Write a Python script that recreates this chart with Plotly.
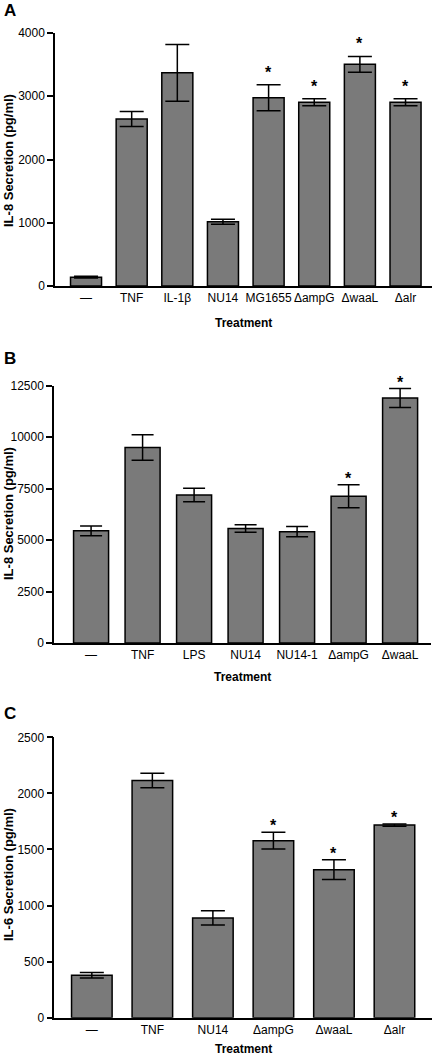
import plotly.graph_objects as go

# Panel A: IL-8
cats_a = ["—", "TNF", "IL-1β", "NU14", "MG1655", "ΔampG", "ΔwaaL", "Δalr"]
vals_a = [140, 2640, 3370, 1015, 2975, 2905, 3505, 2905]
errs_a = [15, 120, 450, 40, 205, 55, 125, 55]
sig_a = [False, False, False, False, True, True, True, True]

# Panel B: IL-8
cats_b = ["—", "TNF", "LPS", "NU14", "NU14-1", "ΔampG", "ΔwaaL"]
vals_b = [5450, 9500, 7190, 5560, 5410, 7130, 11900]
errs_b = [240, 620, 330, 180, 250, 560, 460]
sig_b = [False, False, False, False, False, True, True]

# Panel C: IL-6
cats_c = ["—", "TNF", "NU14", "ΔampG", "ΔwaaL", "Δalr"]
vals_c = [378, 2115, 890, 1578, 1320, 1718]
errs_c = [25, 65, 63, 75, 88, 10]
sig_c = [False, False, False, True, True, True]

W, H = 434, 1056
FONT = "Liberation Sans, Arial, sans-serif"
BAR = "#7a7a7a"

fig = go.Figure()

panels = [
    dict(cats=cats_a, vals=vals_a, errs=errs_a, sig=sig_a, ax="", cap=12,
         xdom=[55, 432], ytop=33, ybot=286, yr=[0, 4000], dt=1000,
         xr=[-0.68, 7.58], ytitle="IL-8 Secretion (pg/ml)", label="A", lab_y=11,
         treat_y=323, bw=0.68, star_shift=6, yt_c=161),
    dict(cats=cats_b, vals=vals_b, errs=errs_b, sig=sig_b, ax="2", cap=11,
         xdom=[54, 431], ytop=385.7, ybot=643, yr=[0, 12500], dt=2500,
         xr=[-0.72, 6.6], ytitle="IL-8 Secretion (pg/ml)", label="B", lab_y=358,
         treat_y=677, bw=0.68, star_shift=0, yt_c=514),
    dict(cats=cats_c, vals=vals_c, errs=errs_c, sig=sig_c, ax="3", cap=12,
         xdom=[54.3, 432], ytop=737.3, ybot=1017.7, yr=[0, 2500], dt=500,
         xr=[-0.62, 5.62], ytitle="IL-6 Secretion (pg/ml)", label="C", lab_y=713,
         treat_y=1049, bw=0.67, star_shift=0, yt_c=875),
]

annotations = []
for i, p in enumerate(panels):
    ax = p["ax"]
    fig.add_trace(go.Bar(
        x=p["cats"], y=p["vals"], width=p["bw"],
        marker=dict(color=BAR, line=dict(color="black", width=1.5)),
        error_y=dict(type="data", array=p["errs"], visible=True,
                     color="black", thickness=1.5, width=p["cap"]),
        xaxis="x" + ax, yaxis="y" + ax, showlegend=False,
    ))
    xd = [p["xdom"][0] / W, p["xdom"][1] / W]
    yd = [(H - p["ybot"]) / H, (H - p["ytop"]) / H]
    fig.update_layout(**{
        "xaxis" + ax: dict(domain=xd, range=p["xr"], type="category",
                           anchor="y" + ax, showline=True, linecolor="black",
                           linewidth=1.5, ticks="", showgrid=False,
                           automargin=False,
                           tickfont=dict(size=12, color="black", family=FONT),
                           categoryorder="array", categoryarray=p["cats"],
                           fixedrange=True),
        "yaxis" + ax: dict(domain=yd, range=p["yr"], anchor="x" + ax,
                           showline=True, linecolor="black", linewidth=1.5,
                           ticks="outside", ticklen=6, tickwidth=1.5,
                           tickcolor="black", dtick=p["dt"], showgrid=False,
                           zeroline=False, automargin=False, tickformat="d",
                           tickfont=dict(size=12, color="black", family=FONT)),
    })
    xref = "x" + ax
    yref = "y" + ax
    for c, v, e, s in zip(p["cats"], p["vals"], p["errs"], p["sig"]):
        if s:
            annotations.append(dict(x=c, y=v + e, xref=xref, yref=yref,
                                    text="<b>*</b>", showarrow=False,
                                    yanchor="bottom", yshift=p["star_shift"] - 4,
                                    font=dict(size=16, color="black", family=FONT)))
    # panel label
    annotations.append(dict(x=2 / W, y=(H - p["lab_y"]) / H, xref="paper", yref="paper",
                            text="<b>" + p["label"] + "</b>", showarrow=False,
                            xanchor="left", yanchor="middle",
                            font=dict(size=17, color="black", family=FONT)))
    # x title
    annotations.append(dict(x=(xd[0] + xd[1]) / 2, y=(H - p["treat_y"]) / H,
                            xref="paper", yref="paper", text="<b>Treatment</b>",
                            showarrow=False, xanchor="center", yanchor="middle",
                            font=dict(size=12, color="black", family=FONT)))
    # y title
    annotations.append(dict(x=8 / W, y=(H - p["yt_c"]) / H, xref="paper", yref="paper",
                            text="<b>" + p["ytitle"] + "</b>", showarrow=False,
                            textangle=-90, xanchor="center", yanchor="middle",
                            font=dict(size=13, color="black", family=FONT)))

fig.update_layout(
    width=W, height=H, margin=dict(l=0, r=0, t=0, b=0),
    paper_bgcolor="white", plot_bgcolor="white",
    annotations=annotations, bargap=0.3,
    font=dict(family=FONT, color="black"),
)

fig.write_html("out.html", config={"displayModeBar": False},
               post_script="document.body.style.margin='0';document.body.style.overflow='hidden';")
